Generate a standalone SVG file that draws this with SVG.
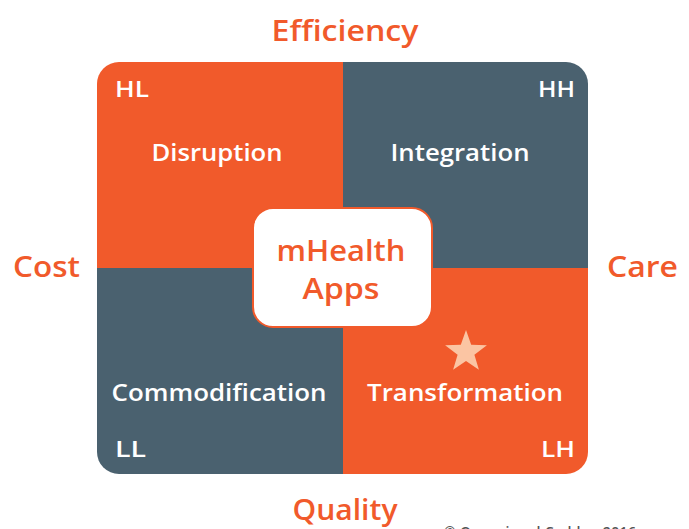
<svg xmlns="http://www.w3.org/2000/svg" width="689" height="529" viewBox="0 0 689 529">
<style>
text{font-family:"Open Sans","Liberation Sans",sans-serif;font-weight:600;}
.ax{fill:#F15A2B;font-size:29px;}
.ql{fill:#ffffff;font-size:23px;}
.cn{fill:#ffffff;font-size:21px;}
.ct{fill:#F15A2B;font-size:29px;}
.og{fill:#F15A2B;}
.gy{fill:#4A616F;}
</style>
<defs>
<clipPath id="board"><rect x="97" y="62" width="491" height="412" rx="22" ry="22"/></clipPath>
</defs>
<rect width="689" height="529" fill="#ffffff"/>
<g id="quadrants" clip-path="url(#board)">
<g id="q-HL"><rect class="og" x="97" y="62" width="246" height="206"/></g>
<g id="q-HH"><rect class="gy" x="343" y="62" width="245" height="206"/></g>
<g id="q-LL"><rect class="gy" x="97" y="268" width="246" height="206"/></g>
<g id="q-LH"><rect class="og" x="343" y="268" width="245" height="206"/></g>
</g>
<g id="labels-HL">
<text class="cn" x="115" y="97" textLength="34" lengthAdjust="spacingAndGlyphs">HL</text>
<text class="ql" x="217" y="161" text-anchor="middle" textLength="131" lengthAdjust="spacingAndGlyphs">Disruption</text>
</g>
<g id="labels-HH">
<text class="cn" x="575" y="97" text-anchor="end" textLength="37" lengthAdjust="spacingAndGlyphs">HH</text>
<text class="ql" x="460" y="161" text-anchor="middle" textLength="139" lengthAdjust="spacingAndGlyphs">Integration</text>
</g>
<g id="labels-LL">
<text class="cn" x="115" y="457" textLength="31" lengthAdjust="spacingAndGlyphs">LL</text>
<text class="ql" x="219" y="401" text-anchor="middle" textLength="215" lengthAdjust="spacingAndGlyphs">Commodification</text>
</g>
<g id="labels-LH">
<text class="cn" x="575" y="457" text-anchor="end" textLength="34" lengthAdjust="spacingAndGlyphs">LH</text>
<text class="ql" x="465" y="401" text-anchor="middle" textLength="196" lengthAdjust="spacingAndGlyphs">Transformation</text>
<polygon id="star" fill="#FBC5A3" points="466,330 471.2,344.8 486.9,345.2 474.4,354.8 478.9,369.8 466,361 453.1,369.8 457.6,354.8 445.1,345.2 460.8,344.8"/>
</g>
<g id="center">
<rect x="253" y="208" width="179" height="119" rx="20" ry="20" fill="#ffffff" stroke="#F15A2B" stroke-width="2"/>
<text class="ct" x="341" y="261" text-anchor="middle" textLength="129" lengthAdjust="spacingAndGlyphs">mHealth</text>
<text class="ct" x="341" y="299" text-anchor="middle" textLength="77" lengthAdjust="spacingAndGlyphs">Apps</text>
</g>
<g id="axes">
<text class="ax" x="345" y="41" text-anchor="middle" textLength="147" lengthAdjust="spacingAndGlyphs">Efficiency</text>
<text class="ax" x="13" y="277" textLength="67" lengthAdjust="spacingAndGlyphs">Cost</text>
<text class="ax" x="607" y="277" textLength="71" lengthAdjust="spacingAndGlyphs">Care</text>
<text class="ax" x="345" y="520" text-anchor="middle" textLength="105" lengthAdjust="spacingAndGlyphs">Quality</text>
</g>
<text x="444" y="537" fill="#555555" font-size="14" font-weight="400" textLength="192" lengthAdjust="spacing">© Ozoani and Cadden 2016</text>
</svg>
